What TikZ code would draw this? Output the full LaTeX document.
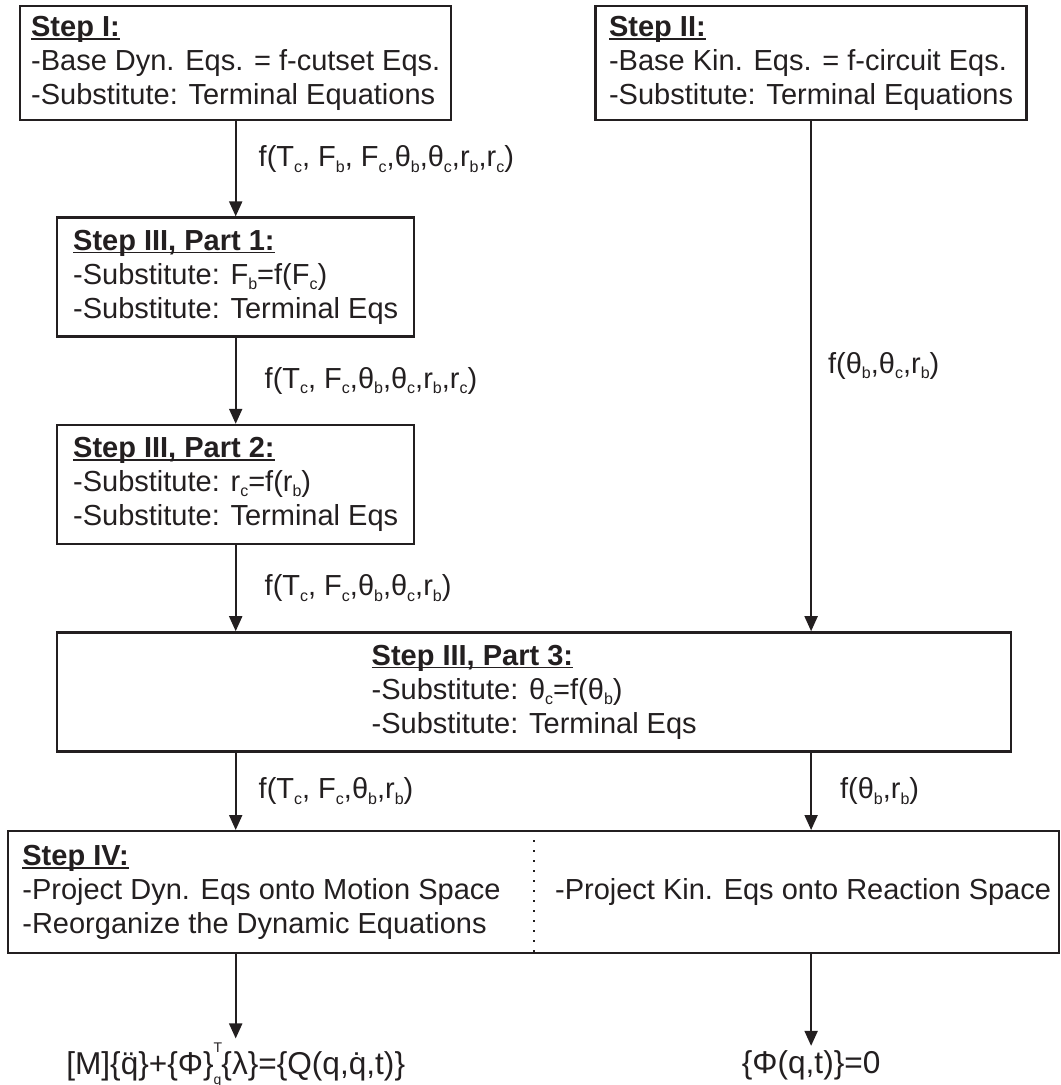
\documentclass[tikz,border=0pt]{standalone}
\usepackage{fontspec}
\setmainfont{Liberation Sans}
\usepackage{tikz}
\usetikzlibrary{arrows.meta, positioning, calc}
\definecolor{ink}{HTML}{231F20}
\newcommand{\idx}[1]{\raisebox{-0.35ex}{\fontsize{8}{8}\selectfont #1}}
\newcommand{\head}[1]{\sbox0{\textbf{#1}}\usebox0\llap{\rule[-1.6pt]{\wd0}{0.8pt}}}
\tikzset{
  stepbox/.style={rectangle, draw=ink, line width=1.2pt, align=left,
                  anchor=north west, inner sep=0pt, text=ink,
                  font=\fontsize{14.5}{17}\selectfont},
  halfbox/.style={stepbox, minimum width=215.5pt, minimum height=57pt},
  partbox/.style={stepbox, minimum width=178.5pt, minimum height=59.5pt},
  plain/.style={align=left, inner sep=0pt, text=ink,
                font=\fontsize{14.5}{17}\selectfont},
  conn/.style={-{Triangle[length=7.5pt,width=6.5pt]}, line width=1pt, draw=ink},
  lbl/.style={plain, right, xshift=11pt},
  outeq/.style={plain, inner sep=2pt, font=\fontsize{15.8}{18}\selectfont},
}

\begin{document}
\begin{tikzpicture}[x=0.5pt, y=-0.5pt]
  \useasboundingbox (0,0) rectangle (1060,1085);

  % ── Row 0: base equations ───────────────────────────────────────────────
  \node[halfbox] (s1) at (19,5)
    {\head{Step I:}\\-Base Dyn. Eqs. = f-cutset Eqs.\\-Substitute: Terminal Equations};
  \node[halfbox, right=71pt of s1] (s2)
    {\head{Step II:}\\-Base Kin. Eqs. = f-circuit Eqs.\\-Substitute: Terminal Equations};

  % ── Row 1-2: substitutions on the dynamic side ──────────────────────────
  \node[partbox, below=47.5pt of s1] (p1)
    {\head{Step III, Part 1:}\\-Substitute: F\idx{b}=f(F\idx{c})\\-Substitute: Terminal Eqs};
  \node[partbox, below=43pt of p1] (p2)
    {\head{Step III, Part 2:}\\-Substitute: r\idx{c}=f(r\idx{b})\\-Substitute: Terminal Eqs};

  % ── Row 3: joint substitution ───────────────────────────────────────────
  \node[stepbox, below=43pt of p2.south west, anchor=north west,
        minimum width=477pt, minimum height=59.5pt] (p3)
    {\head{Step III, Part 3:}\\-Substitute: θ\idx{c}=f(θ\idx{b})\\-Substitute: Terminal Eqs};

  % ── Row 4: projection ───────────────────────────────────────────────────
  \node[stepbox, minimum width=525.5pt, minimum height=61pt] (s4) at (7,830) {};
  \node[plain, anchor=west, xshift=7.5pt] (s4l) at (s4.west)
    {\head{Step IV:}\\-Project Dyn. Eqs onto Motion Space\\-Reorganize the Dynamic Equations};
  \node[plain, anchor=west, xshift=10.5pt] (s4r) at (s4.center)
    {-Project Kin. Eqs onto Reaction Space};
  \draw[ink, line width=1.2pt, dash pattern=on 1.2pt off 3.8pt] (s4.north) -- (s4.south);

  % ── Row 5: results ──────────────────────────────────────────────────────
  \node[outeq] (out1) at (p2 |- 0,1065)
    {[M]\{\"{q}\}+\{Φ\}\rlap{\raisebox{1.3ex}{\fontsize{7}{7}\selectfont T}}\raisebox{-0.6ex}{\fontsize{7}{7}\selectfont q}\{λ\}=\{Q(q,\.{q},t)\}};
  \node[outeq] (out2) at (s2 |- 0,1065) {\{Φ(q,t)\}=0};

  % ── Edges ───────────────────────────────────────────────────────────────
  \draw[conn] (s1) -- node[lbl, pos=0.4]
    {f(T\idx{c}, F\idx{b}, F\idx{c},θ\idx{b},θ\idx{c},r\idx{b},r\idx{c})} (p1);
  \draw[conn] (p1) -- node[lbl, xshift=3pt]
    {f(T\idx{c}, F\idx{c},θ\idx{b},θ\idx{c},r\idx{b},r\idx{c})} (p2);
  \draw[conn] (p2) -- node[lbl, xshift=3pt]
    {f(T\idx{c}, F\idx{c},θ\idx{b},θ\idx{c},r\idx{b})} (p2 |- p3.north);
  \draw[conn] (s2) -- node[lbl, pos=0.48, xshift=-3pt] {f(θ\idx{b},θ\idx{c},r\idx{b})} (s2 |- p3.north);

  \draw[conn] (p2 |- p3.south) -- node[lbl] {f(T\idx{c}, F\idx{c},θ\idx{b},r\idx{b})} (p2 |- s4.north);
  \draw[conn] (s2 |- p3.south) -- node[lbl, xshift=3pt] {f(θ\idx{b},r\idx{b})} (s2 |- s4.north);

  \draw[conn] (p2 |- s4.south) -- (out1);
  \draw[conn] (s2 |- s4.south) -- (out2);

\end{tikzpicture}
\end{document}
